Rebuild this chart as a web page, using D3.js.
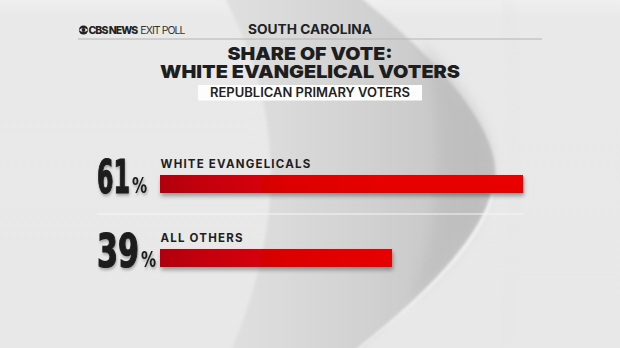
<!DOCTYPE html>
<html><head><meta charset="utf-8">
<script src="https://cdn.jsdelivr.net/npm/d3@7"></script>
<style>html,body{margin:0;padding:0;background:#eaeaea;overflow:hidden}</style>
</head><body><svg id="c" width="620" height="348"></svg>
<script>
// ---- data ----
const categories = ["WHITE EVANGELICALS", "ALL OTHERS"];
const values = [61, 39];
const valueLabels = ["61", "39"];
const brandBold = "CBS NEWS";
const brandLight = "EXIT POLL";
const stateName = "SOUTH CAROLINA";
const titleLines = ["SHARE OF VOTE:", "WHITE EVANGELICAL VOTERS"];
const subtitle = "REPUBLICAN PRIMARY VOTERS";

// ---- layout ----
const W = 620, H = 348;
const svg = d3.select("#c");
const defs = svg.append("defs");

const midG = defs.append("linearGradient").attr("id", "midG")
  .attr("gradientUnits", "userSpaceOnUse").attr("x1", 225).attr("y1", 0).attr("x2", 500).attr("y2", 0);
midG.append("stop").attr("offset", 0).attr("stop-color", "#e0e0e0");
midG.append("stop").attr("offset", 0.45).attr("stop-color", "#d3d3d3");
midG.append("stop").attr("offset", 0.85).attr("stop-color", "#c6c6c6");
midG.append("stop").attr("offset", 1).attr("stop-color", "#c2c2c2");

const bgG = defs.append("linearGradient").attr("id", "bgG").attr("x1", 0).attr("y1", 0).attr("x2", 0).attr("y2", 1);
bgG.append("stop").attr("offset", 0).attr("stop-color", "#efefef");
bgG.append("stop").attr("offset", 0.05).attr("stop-color", "#e9e9e9");
bgG.append("stop").attr("offset", 1).attr("stop-color", "#e8e8e9");

const soft = defs.append("filter").attr("id", "soft").attr("x", "-10%").attr("y", "-10%").attr("width", "120%").attr("height", "120%");
soft.append("feGaussianBlur").attr("stdDeviation", 1.6);
const soft2 = defs.append("filter").attr("id", "soft2").attr("x", "-20%").attr("y", "-20%").attr("width", "140%").attr("height", "140%");
soft2.append("feGaussianBlur").attr("stdDeviation", 6);

const barG = defs.append("linearGradient").attr("id", "barG").attr("gradientUnits", "userSpaceOnUse");
const shadow = defs.append("filter").attr("id", "shadow").attr("x", "-5%").attr("y", "-30%").attr("width", "110%").attr("height", "190%");
shadow.append("feDropShadow").attr("dx", 1).attr("dy", 3).attr("stdDeviation", 2)
  .attr("flood-color", "#000").attr("flood-opacity", 0.35);
const tshadow = defs.append("filter").attr("id", "tshadow").attr("x", "-20%").attr("y", "-20%").attr("width", "140%").attr("height", "160%");
tshadow.append("feDropShadow").attr("dx", 1).attr("dy", 2).attr("stdDeviation", 1.5)
  .attr("flood-color", "#000").attr("flood-opacity", 0.3);

// background
svg.append("rect").attr("width", W).attr("height", H).attr("fill", "url(#bgG)");
const bg = svg.append("g");
bg.append("path")
  .attr("d", "M223,-5 C268,80 300,190 230,353 L357,353 C420,300 490,230 495,178 C500,130 440,60 357,-5 Z")
  .attr("fill", "url(#midG)").attr("filter", "url(#soft)");
bg.append("path")
  .attr("d", "M420,40 C470,90 498,140 492,178 C488,220 450,270 410,300 C440,230 450,130 420,40 Z")
  .attr("fill", "#b5b5b5").attr("opacity", 0.4).attr("filter", "url(#soft2)");
bg.append("path")
  .attr("d", "M493,190 C485,240 420,300 357,350")
  .attr("fill", "none").attr("stroke", "#fbfbfb").attr("stroke-width", 2.2).attr("filter", "url(#soft)").attr("opacity", 0.9);
bg.append("path")
  .attr("d", "M505,-5 C520,80 522,170 505,348")
  .attr("fill", "none").attr("stroke", "#e2e2e2").attr("stroke-width", 6).attr("filter", "url(#soft2)").attr("opacity", 0.6);

// ---- header ----
const sans = "Inter, Lato, 'Open Sans', sans-serif";
const hdr = svg.append("g").attr("fill", "#222");
const eye = hdr.append("g").attr("transform", "translate(83.5,30)");
eye.append("circle").attr("r", 4.6).attr("fill", "#222");
eye.append("path").attr("d", "M-4.6,0 Q0,-4.2 4.6,0 Q0,4.2 -4.6,0 Z").attr("fill", "#eaeaea");
eye.append("circle").attr("r", 1.9).attr("fill", "#222");
const brand = hdr.append("text").attr("x", 88.5).attr("y", 34)
  .attr("font-family", sans).attr("font-size", 10.5);
brand.append("tspan").attr("font-weight", 800).text(brandBold);
brand.append("tspan").attr("font-weight", 400).attr("fill", "#333").attr("dx", 3).text(brandLight);
{
  const len = brand.node().getComputedTextLength();
  const n = (brandBold + brandLight).length;
  brand.attr("letter-spacing", (93 - len) / n);
}
hdr.append("text").attr("x", 310).attr("y", 33.5).attr("text-anchor", "middle").text(stateName)
  .attr("font-family", sans).attr("font-weight", 700).attr("font-size", 13)
  .attr("textLength", 124).attr("lengthAdjust", "spacingAndGlyphs");
svg.append("line").attr("x1", 78).attr("x2", 542).attr("y1", 39).attr("y2", 39)
  .attr("stroke", "#b4b4b4").attr("stroke-width", 1);

const titleY = [60, 78.3];
const titleW = [165, 300];
const title = hdr.append("text").attr("text-anchor", "middle")
  .attr("font-family", sans).attr("font-weight", 900).attr("font-size", 18).attr("fill", "#1e1e1e");
titleLines.forEach((t, i) => {
  title.append("tspan").attr("x", 310).attr("y", titleY[i]).text(t)
    .attr("textLength", titleW[i]).attr("lengthAdjust", "spacingAndGlyphs");
});
hdr.append("rect").attr("x", 198).attr("y", 85).attr("width", 224).attr("height", 15.5)
  .attr("fill", "#fdfdfd");
hdr.append("text").attr("x", 310).attr("y", 97.3).attr("text-anchor", "middle").text(subtitle)
  .attr("font-family", sans).attr("font-weight", 600).attr("font-size", 12.5).attr("fill", "#222")
  .attr("textLength", 200).attr("lengthAdjust", "spacingAndGlyphs");

// ---- bars ----
const x = d3.scaleLinear().domain([0, 100]).range([160, 160 + 363 / 0.61]);
const y = d3.scalePoint().domain(categories).range([175, 249]);
const barH = 18;
barG.attr("x1", x(0)).attr("x2", x(61)).attr("y1", 0).attr("y2", 0);
barG.append("stop").attr("offset", 0).attr("stop-color", "#b0000f");
barG.append("stop").attr("offset", 0.12).attr("stop-color", "#c4000c");
barG.append("stop").attr("offset", 0.35).attr("stop-color", "#dc0004");
barG.append("stop").attr("offset", 0.6).attr("stop-color", "#e60000");
barG.append("stop").attr("offset", 1).attr("stop-color", "#e80000");

svg.append("line").attr("x1", 97).attr("x2", x(61))
  .attr("y1", y(categories[0]) + 39).attr("y2", y(categories[0]) + 39)
  .attr("stroke", "#f6f6f6").attr("stroke-width", 1.2);

const rows = svg.selectAll("g.row").data(categories).join("g").attr("class", "row");
rows.append("rect")
  .attr("x", x(0)).attr("y", d => y(d))
  .attr("width", (d, i) => x(values[i]) - x(0)).attr("height", barH)
  .attr("fill", "url(#barG)").attr("filter", "url(#shadow)");
rows.append("text")
  .attr("x", x(0) + 0.5).attr("y", d => y(d) - 7)
  .text(d => d)
  .attr("font-family", sans).attr("font-weight", 700).attr("font-size", 11.5)
  .attr("fill", "#1e1e1e").attr("letter-spacing", 1.2);
const numW = [33, 42];
const narrow = "'Liberation Sans Narrow', 'DejaVu Sans Condensed', sans-serif";
rows.each(function (d, i) {
  const g = d3.select(this);
  const base = y(d) + barH;
  const t = g.append("text").attr("x", 0).attr("y", 0).text(valueLabels[i])
    .attr("font-family", narrow)
    .attr("font-weight", 700).attr("font-size", 46).attr("fill", "#1c1c1c")
    .attr("stroke", "#1c1c1c").attr("stroke-width", 1.2)
    .attr("filter", "url(#tshadow)");
  const w = t.node().getComputedTextLength();
  t.attr("transform", `translate(97,${base}) scale(${numW[i] / w},1)`);
  g.append("text").attr("x", 0).attr("y", 0).text("%")
    .attr("font-family", narrow)
    .attr("font-weight", 700).attr("font-size", 21).attr("fill", "#1c1c1c")
    .attr("transform", `translate(${97 + numW[i] + 2},${base - 0.5}) scale(0.8,1)`)
    .attr("filter", "url(#tshadow)");
});
</script></body></html>
